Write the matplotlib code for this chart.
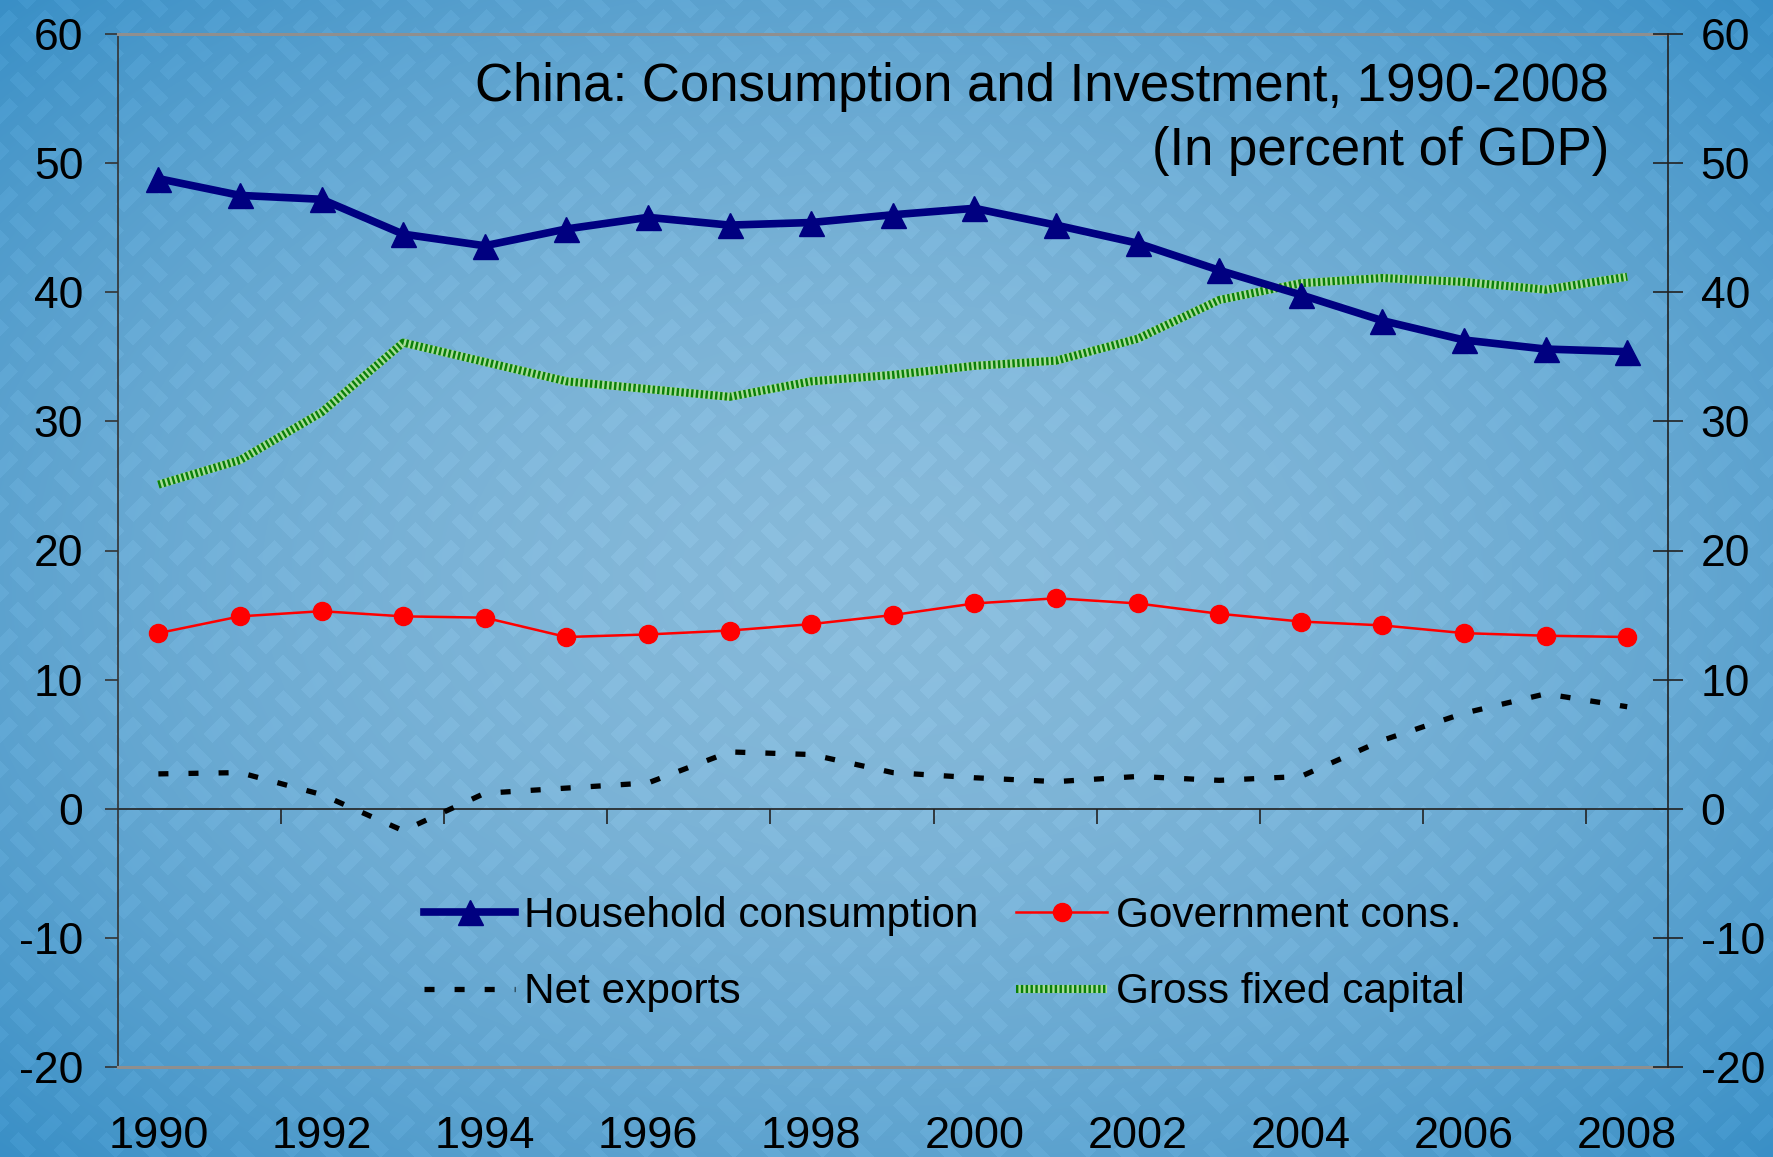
import numpy as np
import matplotlib
matplotlib.use("Agg")
import matplotlib.pyplot as plt
from matplotlib.legend_handler import HandlerTuple

plt.rcParams['font.family'] = ['Liberation Sans', 'DejaVu Sans']
plt.rcParams['axes.unicode_minus'] = False

years = list(range(1990, 2009))
household = [48.8, 47.5, 47.2, 44.5, 43.6, 44.9, 45.8, 45.2, 45.4, 46.0, 46.5,
             45.2, 43.8, 41.7, 39.8, 37.8, 36.3, 35.6, 35.4]
government = [13.6, 14.9, 15.3, 14.9, 14.8, 13.3, 13.5, 13.8, 14.3, 15.0, 15.9,
              16.3, 15.9, 15.1, 14.5, 14.2, 13.6, 13.4, 13.3]
net_exports = [2.7, 2.8, 1.1, -1.7, 1.2, 1.6, 2.0, 4.4, 4.2, 2.8, 2.4,
               2.1, 2.5, 2.2, 2.5, 5.3, 7.4, 8.9, 7.9]
gross_fixed = [25.1, 27.0, 30.7, 36.1, 34.6, 33.1, 32.5, 31.9, 33.1, 33.6, 34.3,
               34.7, 36.4, 39.4, 40.7, 41.1, 40.8, 40.2, 41.2]
xtick_labels = [str(y) for y in years[::2]]
yticks = list(range(-20, 61, 10))

W, H = 1773, 1157
fig = plt.figure(figsize=(W / 100, H / 100), dpi=100)

# ---- background: blue gradient with a faint diagonal fret (sayagata-like) pattern ----
yy, xx = np.mgrid[0:H, 0:W].astype(float)
r = np.sqrt(((xx / W - 0.5) / 0.5) ** 2 + ((yy / H - 0.5) / 0.5) ** 2) / np.sqrt(2)
center = np.array([141, 192, 224], float)
edge = np.array([64, 150, 205], float)
t = np.clip(r, 0, 1) ** 1.8
img = center[None, None, :] * (1 - t[..., None]) + edge[None, None, :] * t[..., None]
tile = np.array([[1, 0, 1, 1, 1],
                 [1, 0, 1, 0, 0],
                 [1, 1, 1, 1, 1],
                 [0, 0, 1, 0, 1],
                 [1, 1, 1, 0, 1]], float)
s = 12.5
u = np.floor((xx + yy) / (np.sqrt(2) * s)).astype(int)
v = np.floor((xx - yy) / (np.sqrt(2) * s)).astype(int)
pat = tile[u % 5, v % 5]
img = img - pat[..., None] * 7.0
bg = fig.add_axes([0, 0, 1, 1], zorder=-10)
bg.imshow(np.clip(img, 0, 255).astype(np.uint8), aspect='auto', interpolation='bilinear')
bg.axis('off')

# ---- main axes ----
left, right, top, bottom = 117.6 / W, 1668 / W, 34 / H, 1067 / H
ax = fig.add_axes([left, 1 - bottom, right - left, bottom - top])
ax.set_facecolor('none')
x = np.arange(len(years))

ax.set_xlim(-0.5, len(years) - 0.5)
ax.set_ylim(-20, 60)

gf_base, = ax.plot(x, gross_fixed, color='#a8dc98', lw=5.8, solid_capstyle='butt', zorder=3)
gf_top, = ax.plot(x, gross_fixed, color='#0a800a', lw=5.8, dashes=(0.3, 0.3),
                  dash_capstyle='butt', zorder=3.1)
ne, = ax.plot(x, net_exports, color='black', lw=3.8, dashes=(1.9, 3.8),
              dash_capstyle='butt', zorder=4)
gv, = ax.plot(x, government, color='#ff0000', lw=1.8, marker='o', ms=13,
              markeredgecolor='#ff0000', zorder=5)
hh, = ax.plot(x, household, color='#000080', lw=5.5, marker='^', ms=18,
              markeredgecolor='#000080', zorder=6)

ax.set_yticks(yticks)
ax.tick_params(axis='y', labelsize=32, length=13.5 * 0.72, width=1.2,
               color='#333333', pad=15, direction='out')
ax.set_xticks(x[::2])
ax.set_xticklabels(xtick_labels)
ax.tick_params(axis='x', labelsize=32.5, length=0, pad=35)
ax.spines['left'].set_color('#333333')
ax.spines['left'].set_linewidth(1.2)
for sp in ('top', 'bottom'):
    ax.spines[sp].set_color('#8f8f8f')
    ax.spines[sp].set_linewidth(2.2)
ax.spines['right'].set_visible(False)

# zero line with category-boundary ticks
sec = ax.secondary_xaxis(0.25)
sec.set_xticks(x[1:-1:2] + 0.5)
sec.tick_params(axis='x', direction='out', length=11, width=1.2, color='#222222',
                labelbottom=False, labeltop=False)
sec.spines['bottom'].set_color('#222222')
sec.spines['bottom'].set_linewidth(1.2)

# right axis
ax2 = ax.twinx()
ax2.set_ylim(-20, 60)
ax2.set_yticks(yticks)
ax2.tick_params(axis='y', labelsize=32, length=21, width=1.2, direction='inout',
                color='#222222', pad=13)
for sp in ('top', 'bottom', 'left'):
    ax2.spines[sp].set_visible(False)
ax2.spines['right'].set_color('#222222')
ax2.spines['right'].set_linewidth(1.2)

# title
fig.text(1609 / W, 1 - 87 / H, 'China: Consumption and Investment, 1990-2008',
         ha='right', va='center', fontsize=38)
fig.text(1609 / W, 1 - 151 / H, '(In percent of GDP)',
         ha='right', va='center', fontsize=38)

# legend
leg = ax.legend([hh, ne, gv, (gf_base, gf_top)],
                ['Household consumption', 'Net exports', 'Government cons.', 'Gross fixed capital'],
                handler_map={tuple: HandlerTuple(ndivide=1)},
                ncol=2, frameon=False, fontsize=30.5, loc='upper left',
                bbox_to_anchor=(424 / W, 1 - 896 / H), bbox_transform=fig.transFigure,
                borderpad=0, borderaxespad=0, handlelength=2.15, handletextpad=0.2,
                columnspacing=0.9, labelspacing=0.86)

fig.savefig('out.png', dpi=100)
